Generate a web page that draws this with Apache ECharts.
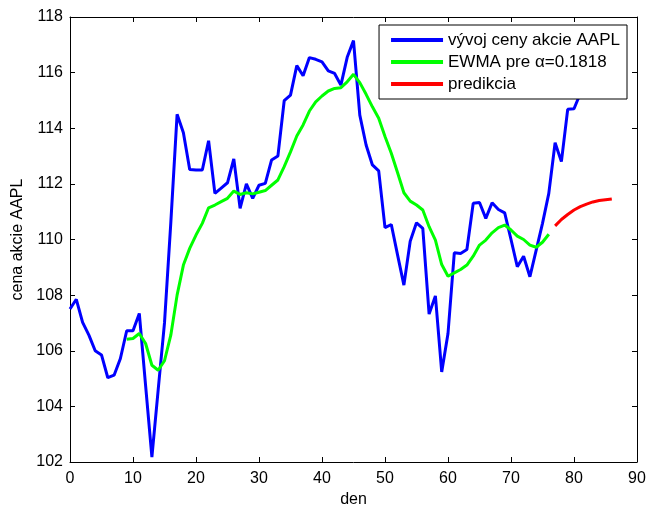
<!DOCTYPE html>
<html>
<head>
<meta charset="utf-8">
<script src="https://cdn.jsdelivr.net/npm/echarts@6/dist/echarts.min.js"></script>
<style>
html,body{margin:0;padding:0;background:#fff;}
#chart{width:646px;height:505px;}
</style>
</head>
<body>
<div id="chart"></div>
<script>
// price series (day 0..82)
var priceStart = 0;
var priceValues = [107.5,107.85,107.02,106.56,106.0,105.85,105.03,105.12,105.72,106.72,
106.72,107.34,104.75,102.18,104.6,107.0,110.6,114.5,113.84,112.52,
112.5,112.5,113.55,111.66,111.85,112.04,112.9,111.12,112.0,111.48,
111.95,112.02,112.86,113.0,114.99,115.19,116.25,115.89,116.54,116.48,
116.39,116.06,115.97,115.55,116.55,117.15,114.47,113.4,112.68,112.47,
110.43,110.54,109.44,108.36,109.94,110.6,110.4,107.32,107.97,105.24,
106.62,109.52,109.5,109.64,111.3,111.33,110.76,111.32,111.08,110.96,
110.0,109.02,109.4,108.66,109.62,110.58,111.66,113.48,112.8,114.68,
114.7,115.25,115.8];
// EWMA series (day 9..76)
var ewmaStart = 9;
var ewmaValues = [106.41,106.44,106.62,106.26,105.48,105.3,105.64,106.56,108.0,109.08,
109.68,110.16,110.58,111.14,111.24,111.36,111.48,111.74,111.62,111.68,
111.64,111.7,111.76,111.95,112.14,112.62,113.15,113.72,114.12,114.62,
114.95,115.16,115.34,115.43,115.46,115.67,115.94,115.64,115.22,114.77,
114.36,113.7,113.1,112.4,111.68,111.38,111.24,111.06,110.46,109.98,
109.1,108.68,108.8,108.92,109.08,109.4,109.8,109.98,110.24,110.43,
110.52,110.34,110.12,110.0,109.8,109.72,109.9,110.19];
// prediction (day 77..86)
var predStart = 77;
var predValues = [110.49,110.72,110.9,111.06,111.18,111.27,111.35,111.4,111.43,111.46];

var seriesNames = ['vývoj ceny akcie AAPL','EWMA pre α=0.1818','predikcia'];
var xTicks = {min:0,max:90,interval:10};
var yTicks = {min:102,max:118,interval:2};

function pairs(start, vals){ return vals.map(function(v,i){return [start+i, v];}); }

var font = 'Liberation Sans, Arial, sans-serif';
var chart = echarts.init(document.getElementById('chart'), null, {renderer:'canvas'});
var axisCommon = {
  axisLine:{show:true,onZero:false,lineStyle:{color:'#000',width:1}},
  axisTick:{show:true,inside:true,length:5,lineStyle:{color:'#000'}},
  splitLine:{show:false}
};
chart.setOption({
  animation:false,
  backgroundColor:'#fff',
  grid:{left:70,right:9,top:17,bottom:43,containLabel:false,outerBoundsMode:'none'},
  xAxis:[
    Object.assign({type:'value',position:'bottom',min:xTicks.min,max:xTicks.max,interval:xTicks.interval,
      name:'den',nameLocation:'middle',nameGap:27,
      nameTextStyle:{fontFamily:font,fontSize:16,color:'#000'},
      axisLabel:{fontFamily:font,fontSize:16,color:'#000',margin:9}},axisCommon),
    Object.assign({type:'value',position:'top',min:xTicks.min,max:xTicks.max,interval:xTicks.interval,
      axisLabel:{show:false}},axisCommon)
  ],
  yAxis:[
    Object.assign({type:'value',position:'left',min:yTicks.min,max:yTicks.max,interval:yTicks.interval,
      name:'cena akcie AAPL',nameLocation:'middle',nameGap:44,
      nameTextStyle:{fontFamily:font,fontSize:16,color:'#000'},
      axisLabel:{fontFamily:font,fontSize:16,color:'#000',margin:7}},axisCommon),
    Object.assign({type:'value',position:'right',min:yTicks.min,max:yTicks.max,interval:yTicks.interval,
      axisLabel:{show:false}},axisCommon)
  ],
  legend:{
    show:true,orient:'vertical',
    right:19,top:25,
    backgroundColor:'#fff',borderColor:'#000',borderWidth:1,borderRadius:0,
    padding:[5,7,5,12],itemGap:2,
    itemWidth:52,itemHeight:4,icon:'rect',
    textStyle:{fontFamily:font,fontSize:17,lineHeight:20,color:'#000'},
    data:seriesNames
  },
  series:[
    {name:seriesNames[0],type:'line',data:pairs(priceStart,priceValues),showSymbol:false,symbol:'none',
      lineStyle:{color:'#0000ff',width:3},itemStyle:{color:'#0000ff'},z:2},
    {name:seriesNames[1],type:'line',data:pairs(ewmaStart,ewmaValues),showSymbol:false,symbol:'none',
      lineStyle:{color:'#00ff00',width:3},itemStyle:{color:'#00ff00'},z:3},
    {name:seriesNames[2],type:'line',data:pairs(predStart,predValues),showSymbol:false,symbol:'none',
      lineStyle:{color:'#ff0000',width:3},itemStyle:{color:'#ff0000'},z:3}
  ]
});
</script>
</body>
</html>
